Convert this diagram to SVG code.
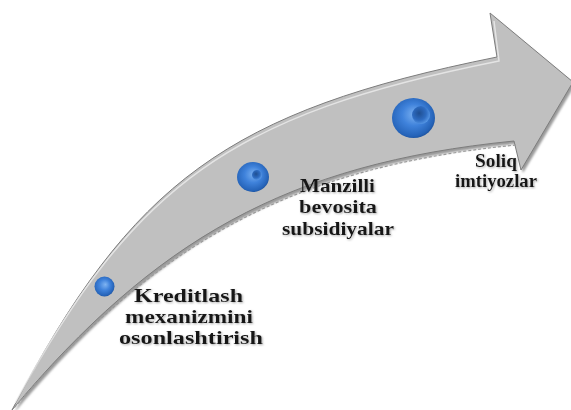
<svg xmlns="http://www.w3.org/2000/svg" width="571" height="410" viewBox="0 0 571 410">
<style>
.lbl{font-family:"Liberation Serif","Times New Roman",serif;font-weight:bold;font-size:19px;fill:#151515;text-anchor:middle;filter:url(#ts)}
</style>
<defs>
<radialGradient id="ball" cx="0.45" cy="0.45" r="0.6" fx="0.55" fy="0.4">
<stop offset="0" stop-color="#7fb4f2"/>
<stop offset="0.45" stop-color="#3f82db"/>
<stop offset="0.85" stop-color="#2563b8"/>
<stop offset="1" stop-color="#1a4c94"/>
</radialGradient>
<radialGradient id="hole" cx="0.4" cy="0.4" r="0.65">
<stop offset="0" stop-color="#1f4f92"/>
<stop offset="0.6" stop-color="#2e6cc2"/>
<stop offset="1" stop-color="#5a9be8"/>
</radialGradient>
<filter id="ts" x="-10%" y="-30%" width="120%" height="160%">
<feGaussianBlur in="SourceAlpha" stdDeviation="1"/>
<feOffset dx="1" dy="1" result="b"/>
<feFlood flood-color="#888" flood-opacity="0.7"/>
<feComposite in2="b" operator="in" result="s"/>
<feMerge><feMergeNode in="s"/><feMergeNode in="SourceGraphic"/></feMerge>
</filter>
<filter id="sh" x="-5%" y="-5%" width="110%" height="110%">
<feGaussianBlur stdDeviation="1.2"/>
</filter>
</defs>
<g id="connectors">
<path id="arrow-shadow" d="M12 410 C132 181 229 111 497 57 L490 13 L573 82 L521 170 L514 141 C287 163.5 155 240 12 410 Z" fill="#9a9a9a" transform="translate(2,3)" filter="url(#sh)"/>
<path id="arrow" d="M12 410 C132 181 229 111 497 57 L490 13 L573 82 L521 170 L514 141 C287 163.5 155 240 12 410 Z" fill="#c0c0c0" stroke="#7d7d7d" stroke-width="1"/>
<path d="M15 403 C135 183 232 114 499 61 L494 21" fill="none" stroke="#ececec" stroke-width="1.5" opacity="0.8"/>
<path d="M516 145 C289 167.5 157 244 14 408" fill="none" stroke="#9a9a9a" stroke-width="1.2" stroke-dasharray="3 2"/>
</g>
<g id="node-1">
<circle cx="104.5" cy="286.5" r="10" fill="url(#ball)"/>
<text class="lbl" x="188.5" y="302" textLength="109" lengthAdjust="spacingAndGlyphs">Kreditlash</text>
<text class="lbl" x="189" y="323" textLength="128" lengthAdjust="spacingAndGlyphs">mexanizmini</text>
<text class="lbl" x="191" y="344" textLength="144" lengthAdjust="spacingAndGlyphs">osonlashtirish</text>
</g>
<g id="node-2">
<ellipse cx="253" cy="177" rx="16" ry="15" fill="url(#ball)"/>
<circle cx="257" cy="175" r="5" fill="url(#hole)"/>
<text class="lbl" x="337.5" y="192" textLength="75" lengthAdjust="spacingAndGlyphs">Manzilli</text>
<text class="lbl" x="338" y="213" textLength="78" lengthAdjust="spacingAndGlyphs">bevosita</text>
<text class="lbl" x="338" y="235" textLength="112" lengthAdjust="spacingAndGlyphs">subsidiyalar</text>
</g>
<g id="node-3">
<ellipse cx="413.5" cy="118" rx="21.5" ry="20" fill="url(#ball)"/>
<circle cx="421" cy="115" r="9" fill="url(#hole)"/>
<text class="lbl" x="496" y="167" textLength="42" lengthAdjust="spacingAndGlyphs">Soliq</text>
<text class="lbl" x="496" y="187" textLength="82" lengthAdjust="spacingAndGlyphs">imtiyozlar</text>
</g>
</svg>
